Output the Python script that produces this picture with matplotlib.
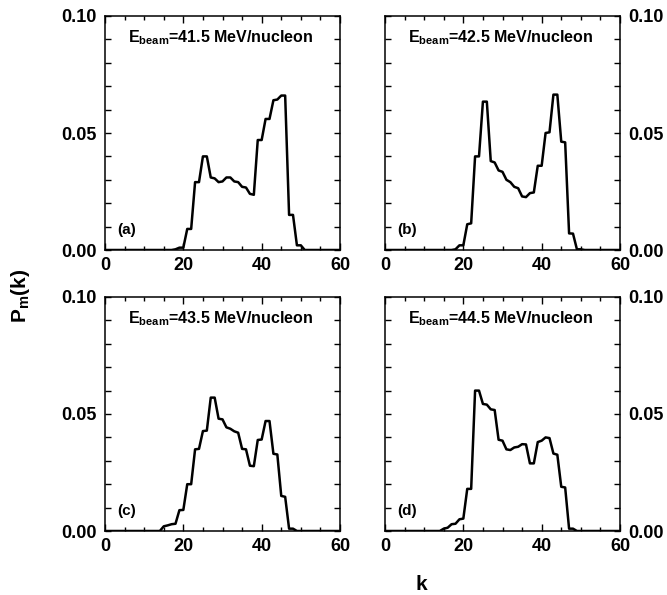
import numpy as np
import matplotlib
matplotlib.use('Agg')
import matplotlib.pyplot as plt
from matplotlib.ticker import MultipleLocator

plt.rcParams['font.family'] = 'Liberation Sans'
plt.rcParams['font.weight'] = 'bold'
plt.rcParams['mathtext.fontset'] = 'custom'
plt.rcParams['mathtext.rm'] = 'Liberation Sans:bold'
plt.rcParams['mathtext.bf'] = 'Liberation Sans:bold'

# multiplicity distributions, one value per k (k = 0..60)
k_start = 14
pm_a = [0, 0, 0, 0, 0.0003, 0.001, 0.001, 0.009, 0.009, 0.029, 0.029, 0.040, 0.040,
        0.031, 0.0306, 0.029, 0.0293, 0.031, 0.031, 0.0293, 0.029, 0.027, 0.0267,
        0.024, 0.0236, 0.047, 0.047, 0.056, 0.056, 0.064, 0.0643, 0.066, 0.066,
        0.015, 0.015, 0.002, 0.002, 0, 0]
pm_b = [0, 0, 0, 0, 0.0003, 0.002, 0.002, 0.011, 0.0114, 0.040, 0.040, 0.0634, 0.0634,
        0.038, 0.0374, 0.034, 0.0334, 0.030, 0.029, 0.027, 0.0264, 0.0229, 0.0226,
        0.0243, 0.0246, 0.036, 0.036, 0.050, 0.0503, 0.0664, 0.0664, 0.0463, 0.046,
        0.0071, 0.007, 0.0003, 0.0003, 0, 0]
pm_c = [0, 0.002, 0.0024, 0.0029, 0.0031, 0.0089, 0.009, 0.020, 0.020, 0.0349, 0.0351,
        0.0427, 0.0429, 0.057, 0.057, 0.048, 0.0477, 0.0443, 0.0437, 0.0426, 0.042,
        0.0351, 0.0349, 0.0279, 0.0277, 0.0389, 0.0391, 0.047, 0.047, 0.033, 0.0327,
        0.015, 0.0146, 0.001, 0.001, 0, 0, 0, 0]
pm_d = [0, 0.001, 0.0014, 0.0029, 0.0031, 0.005, 0.0053, 0.018, 0.018, 0.060, 0.060,
        0.0543, 0.054, 0.052, 0.0517, 0.039, 0.0386, 0.0349, 0.0346, 0.0357, 0.036,
        0.0371, 0.037, 0.0289, 0.0289, 0.038, 0.0386, 0.040, 0.0397, 0.0331, 0.0326,
        0.0189, 0.0186, 0.001, 0.001, 0, 0, 0, 0]

energies = ['41.5', '42.5', '43.5', '44.5']
panel_tags = ['(a)', '(b)', '(c)', '(d)']
series = [pm_a, pm_b, pm_c, pm_d]

W, H = 667, 595
fig = plt.figure(figsize=(W / 100, H / 100), dpi=100)

# axes boxes in pixels: left, top
boxes = [(105, 16), (385, 16), (105, 297), (385, 297)]
aw, ah = 235, 234

for i, (vals, e, tag) in enumerate(zip(series, energies, panel_tags)):
    left, top = boxes[i]
    ax = fig.add_axes([left / W, 1 - (top + ah) / H, aw / W, ah / H])

    k = np.arange(0, 61)
    pm = np.zeros(61)
    pm[k_start:k_start + len(vals)] = vals
    ax.plot(k, pm, color='black', lw=1.8)

    ax.set_xlim(0, 60)
    ax.set_ylim(0, 0.1)
    ax.xaxis.set_major_locator(MultipleLocator(20))
    ax.xaxis.set_minor_locator(MultipleLocator(5))
    ax.yaxis.set_major_locator(MultipleLocator(0.05))
    ax.yaxis.set_minor_locator(MultipleLocator(0.01))
    ax.yaxis.set_major_formatter(plt.FormatStrFormatter('%.2f'))
    ax.tick_params(which='both', direction='in', top=True, right=True, width=1.0)
    ax.tick_params(axis='x', which='major', length=5, pad=5, labelsize=13)
    ax.tick_params(axis='x', which='minor', length=3)
    ax.tick_params(axis='y', which='both', length=4.5, pad=6, labelsize=13)
    if i % 2 == 1:
        ax.tick_params(axis='y', labelleft=False, labelright=True)
    for sp in ax.spines.values():
        sp.set_linewidth(1.1)

    ax.text(0.49, 0.886, r'$\mathbf{E}_{\mathbf{beam}}$=' + e + ' MeV/nucleon',
            transform=ax.transAxes, ha='center', va='baseline', fontsize=11.5,
            fontweight='bold')
    ax.text(0.05, 0.085, tag, transform=ax.transAxes, ha='left', va='center',
            fontsize=11, fontweight='bold')

fig.text(21 / W, 1 - 296 / H, r'$\mathbf{P}_{\mathbf{m}}\mathbf{(k)}$', rotation=90,
         ha='center', va='center', fontsize=15)
fig.text(421 / W, 1 - 585 / H, 'k', ha='center', va='center', fontsize=15,
         fontweight='bold')

fig.savefig('out.png', dpi=100)
